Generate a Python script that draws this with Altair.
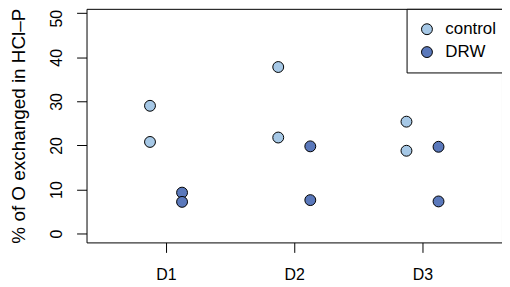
import altair as alt
import pandas as pd

days = ["D1", "D2", "D3"]
groups = ["control", "DRW"]
colors = ["#a6c8e6", "#5a78bb"]

control_day = ["D1", "D1", "D2", "D2", "D3", "D3"]
control_val = [29.0, 20.8, 37.8, 21.8, 25.4, 18.8]
drw_day = ["D1", "D1", "D2", "D2", "D3", "D3"]
drw_val = [9.3, 7.2, 19.8, 7.6, 19.7, 7.3]

rows = []
for d, v in zip(control_day, control_val):
    rows.append({"day": d, "group": "control", "value": v})
for d, v in zip(drw_day, drw_val):
    rows.append({"day": d, "group": "DRW", "value": v})
df = pd.DataFrame(rows)

FONT = "Liberation Sans"

chart = (
    alt.Chart(df)
    .transform_calculate(
        xpos="indexof(['D1','D2','D3'], datum.day) + 1 + (datum.group == 'control' ? -0.125 : 0.125)"
    )
    .mark_point(filled=True, size=120, stroke="black", strokeWidth=1, opacity=1)
    .encode(
        x=alt.X(
            "xpos:Q",
            scale=alt.Scale(domain=[0.38, 3.62], nice=False, zero=False),
            axis=alt.Axis(
                values=[1, 2, 3],
                labelExpr="'D' + datum.value",
                title=None,
                tickSize=10,
                tickColor="black",
                labelPadding=14,
                labelFontSize=16,
                labelColor="black",
                labelFont=FONT,
                domain=False,
                grid=False,
            ),
        ),
        y=alt.Y(
            "value:Q",
            scale=alt.Scale(domain=[-2, 51], nice=False, zero=False),
            axis=alt.Axis(
                values=[0, 10, 20, 30, 40, 50],
                title="% of O exchanged in HCl–P",
                titleFontSize=19,
                titleFont=FONT,
                titleFontWeight="normal",
                titleColor="black",
                titlePadding=20,
                tickSize=10,
                tickColor="black",
                labelAngle=270,
                labelAlign="center",
                labelBaseline="bottom",
                labelPadding=12,
                labelFontSize=16,
                labelColor="black",
                labelFont=FONT,
                labelOffset={"condition": {"test": "datum.value == 50", "value": 5}, "value": 0},
                domain=False,
                grid=False,
            ),
        ),
        fill=alt.Fill(
            "group:N",
            scale=alt.Scale(domain=groups, range=colors),
            legend=alt.Legend(
                title=None,
                orient="none",
                legendX=322,
                legendY=0,
                strokeColor="black",
                fillColor="white",
                padding=12,
                labelFontSize=17,
                labelFont=FONT,
                labelColor="black",
                labelOffset=10,
                symbolType="circle",
                symbolSize=120,
                symbolStrokeColor="black",
                symbolStrokeWidth=1,
                rowPadding=5,
            ),
        ),
    )
    .properties(
        width=418,
        height=235,
        autosize=alt.AutoSizeParams(type="none"),
        padding={"left": 79, "top": 0, "right": 0, "bottom": 44},
    )
    .configure_view(stroke="black", strokeWidth=1)
)

chart.save("out.html", embed_options={"renderer": "svg", "actions": False})
